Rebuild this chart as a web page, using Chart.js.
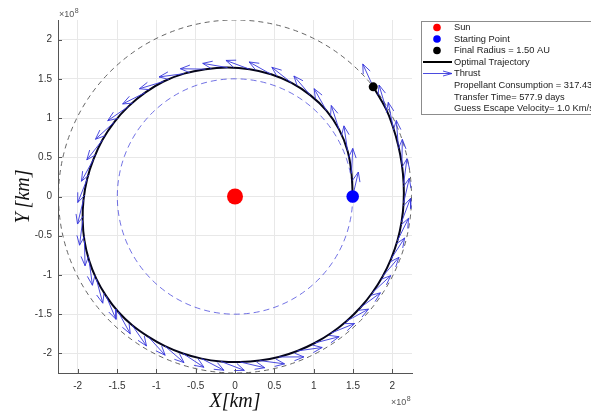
<!DOCTYPE html>
<html>
<head>
<meta charset="utf-8">
<script src="https://cdn.jsdelivr.net/npm/chart.js@4.4.1/dist/chart.umd.min.js"></script>
<style>
  html, body { margin: 0; padding: 0; background: #fff; }
  #wrap { width: 591px; height: 418px; }
</style>
</head>
<body>
<div id="wrap"><canvas id="c" width="591" height="418"></canvas></div>
<script>
// Low-thrust transfer from 1 AU to 1.5 AU. Positions are in units of 10^8 km.
const tickValues = [-2, -1.5, -1, -0.5, 0, 0.5, 1, 1.5, 2];
const axisLimit = 2.25;
const startOrbitRadius = 1.496;   // 1 AU
const finalOrbitRadius = 2.244;   // 1.5 AU
const sunPosition = { x: 0, y: 0 };

// Trajectory nodes (polar angle in degrees, radius in 10^8 km)
const nodeThetaDeg = [
  0, 11.2, 22.2, 32.9, 43.3, 53.5, 63.6, 73.6, 83.5, 93.3,
  103.0, 112.5, 121.8, 130.8, 139.7, 148.4, 156.9, 165.2, 173.3, 181.2,
  188.9, 196.4, 203.7, 210.8, 217.8, 224.7, 231.5, 238.3, 245.0, 251.7,
  258.4, 265.1, 271.8, 278.5, 285.2, 291.9, 298.5, 305.1, 311.7, 318.3,
  324.9, 331.5, 338.1, 344.7, 351.3, 357.9, 364.4, 370.9, 377.4, 383.8,
  390.1, 398.5
];
const nodeRadius = [
  1.496, 1.51, 1.545, 1.575, 1.597, 1.608, 1.617, 1.624, 1.633, 1.646,
  1.666, 1.695, 1.725, 1.749, 1.776, 1.805, 1.833, 1.860, 1.893, 1.926,
  1.96, 1.995, 2.026, 2.052, 2.072, 2.089, 2.098, 2.10, 2.105, 2.108,
  2.11, 2.11, 2.111, 2.115, 2.12, 2.122, 2.125, 2.127, 2.129, 2.131,
  2.133, 2.135, 2.137, 2.14, 2.142, 2.145, 2.15, 2.16, 2.175, 2.195,
  2.22, 2.245
];
// Thrust direction at each node: outward tilt from the local horizontal (deg)
const thrustTiltDeg = [
  13, 14, 14, 15, 14, 13, 12, 13, 14, 13,
  14, 15, 15, 14, 15, 16, 15, 14, 15, 15,
  16, 15, 16, 16, 15, 16, 17, 16, 16, 15,
  16, 16, 15, 16, 15, 14, 14, 13, 13, 12,
  12, 12, 11, 11, 12, 11, 12, 12, 13, 13,
  14, 14
];

const legendLabels = ['Sun', 'Starting Point', 'Final Radius = 1.50 AU', 'Optimal Trajectory', 'Thrust'];
const legendNotes = ['Propellant Consumption = 317.43 Kg', 'Transfer Time= 577.9 days', 'Guess Escape Velocity= 1.0 Km/s'];

// Arrow styling (data units)
const ARROW_LEN = 0.32;
const HEAD_LEN = 0.13;
const HEAD_HALF_ANGLE = 22 * Math.PI / 180;

const DEG = Math.PI / 180;
const trajectory = nodeThetaDeg.map((t, i) => ({
  x: nodeRadius[i] * Math.cos(t * DEG),
  y: nodeRadius[i] * Math.sin(t * DEG)
}));
const startPoint = trajectory[0];
const finalPoint = trajectory[trajectory.length - 1];

// Quiver arrows: tail at each node, shaft + open head, separated by gaps
const arrowPoints = [];
trajectory.forEach((p, i) => {
  const phi = (nodeThetaDeg[i] + 90 - thrustTiltDeg[i]) * DEG;
  const hx = p.x + ARROW_LEN * Math.cos(phi);
  const hy = p.y + ARROW_LEN * Math.sin(phi);
  const w1 = { x: hx - HEAD_LEN * Math.cos(phi + HEAD_HALF_ANGLE), y: hy - HEAD_LEN * Math.sin(phi + HEAD_HALF_ANGLE) };
  const w2 = { x: hx - HEAD_LEN * Math.cos(phi - HEAD_HALF_ANGLE), y: hy - HEAD_LEN * Math.sin(phi - HEAD_HALF_ANGLE) };
  arrowPoints.push(p, { x: hx, y: hy }, w1, { x: null, y: null }, w2, { x: hx, y: hy }, { x: null, y: null });
});

const AXIS_COLOR = '#555555';
const TEXT_COLOR = '#333333';
const ARROW_COLOR = 'rgba(55,55,220,0.9)';
const SANS = '"Liberation Sans", Arial, Helvetica, sans-serif';

// Reference orbits drawn as dashed circles through the scales
const orbitCircles = {
  id: 'orbitCircles',
  beforeDatasetsDraw(chart) {
    const { ctx, chartArea, scales: { x, y } } = chart;
    const cx = x.getPixelForValue(sunPosition.x);
    const cy = y.getPixelForValue(sunPosition.y);
    const draw = (r, color, dash) => {
      const rp = x.getPixelForValue(r) - cx;
      ctx.save();
      ctx.beginPath();
      ctx.rect(chartArea.left, chartArea.top, chartArea.right - chartArea.left, chartArea.bottom - chartArea.top);
      ctx.clip();
      ctx.beginPath();
      ctx.setLineDash(dash);
      ctx.strokeStyle = color;
      ctx.lineWidth = 0.9;
      ctx.arc(cx, cy, rp, 0, Math.PI * 2);
      ctx.stroke();
      ctx.restore();
    };
    draw(finalOrbitRadius, '#555555', [5, 4]);
    draw(startOrbitRadius, 'rgba(70,70,220,0.85)', [6, 4]);
  }
};

// Inward tick marks, exponent labels and the legend box
const extras = {
  id: 'extras',
  afterDraw(chart) {
    const { ctx, chartArea, scales: { x, y } } = chart;
    ctx.save();
    ctx.strokeStyle = AXIS_COLOR;
    ctx.lineWidth = 1;
    tickValues.forEach(v => {
      const px = Math.round(x.getPixelForValue(v)) + 0.5;
      ctx.beginPath();
      ctx.moveTo(px, chartArea.bottom);
      ctx.lineTo(px, chartArea.bottom - 4);
      ctx.stroke();
      const py = Math.round(y.getPixelForValue(v)) + 0.5;
      ctx.beginPath();
      ctx.moveTo(chartArea.left, py);
      ctx.lineTo(chartArea.left + 4, py);
      ctx.stroke();
    });

    // ×10^8 multipliers
    const expLabel = (lx, by) => {
      ctx.fillStyle = '#555';
      ctx.textAlign = 'left';
      ctx.textBaseline = 'alphabetic';
      ctx.font = '9px ' + SANS;
      ctx.fillText('\u00d710', lx, by);
      const w = ctx.measureText('\u00d710').width;
      ctx.font = '7px ' + SANS;
      ctx.fillText('8', lx + w + 0.5, by - 4);
    };
    expLabel(chartArea.left + 1, 17);
    expLabel(chartArea.right - 21, 405);

    // Legend
    const bx = 421.5, by = 21.5, bw = 210, bh = 93;
    ctx.fillStyle = '#ffffff';
    ctx.fillRect(bx, by, bw, bh);
    ctx.strokeStyle = '#8c8c8c';
    ctx.lineWidth = 1;
    ctx.strokeRect(bx, by, bw, bh);

    const rowY = [27.5, 39, 50.5, 62, 73.5, 85.5, 97, 108.5];
    const symX = 437;
    const textX = 454;
    const dot = (yy, color, r) => {
      ctx.beginPath();
      ctx.fillStyle = color;
      ctx.arc(symX, yy, r, 0, Math.PI * 2);
      ctx.fill();
    };
    dot(rowY[0], '#ff0000', 3.8);
    dot(rowY[1], '#0000ff', 3.8);
    dot(rowY[2], '#000000', 3.8);

    ctx.strokeStyle = '#000';
    ctx.lineWidth = 2;
    ctx.beginPath();
    ctx.moveTo(423, rowY[3]);
    ctx.lineTo(452, rowY[3]);
    ctx.stroke();

    ctx.strokeStyle = ARROW_COLOR;
    ctx.lineWidth = 1;
    ctx.beginPath();
    ctx.moveTo(423, rowY[4]);
    ctx.lineTo(452, rowY[4]);
    ctx.moveTo(443, rowY[4] - 2.5);
    ctx.lineTo(452, rowY[4]);
    ctx.lineTo(443, rowY[4] + 2.5);
    ctx.stroke();

    ctx.fillStyle = '#222';
    ctx.font = '9.3px ' + SANS;
    ctx.textAlign = 'left';
    ctx.textBaseline = 'middle';
    legendLabels.forEach((t, i) => ctx.fillText(t, textX, rowY[i]));
    legendNotes.forEach((t, i) => ctx.fillText(t, textX, rowY[5 + i]));
    ctx.restore();
  }
};

const tickFont = { family: SANS, size: 10 };
const titleFont = { family: '"Liberation Serif", "DejaVu Serif", serif', size: 20, style: 'italic' };

new Chart(document.getElementById('c'), {
  type: 'scatter',
  data: {
    datasets: [
      { label: 'Sun', data: [sunPosition], pointRadius: 8, pointBackgroundColor: '#ff0000', pointBorderWidth: 0, order: 0 },
      { label: 'Starting Point', data: [startPoint], pointRadius: 6.3, pointBackgroundColor: '#0000ff', pointBorderWidth: 0, order: 0 },
      { label: 'Final Radius = 1.50 AU', data: [finalPoint], pointRadius: 4.5, pointBackgroundColor: '#000000', pointBorderWidth: 0, order: 0 },
      { label: 'Thrust', data: arrowPoints, showLine: true, spanGaps: false, pointRadius: 0, borderColor: ARROW_COLOR, borderWidth: 1, tension: 0, order: 1 },
      { label: 'Optimal Trajectory', data: trajectory, showLine: true, pointRadius: 0, borderColor: '#05051a', borderWidth: 2, tension: 0.4, order: 2 }
    ]
  },
  options: {
    responsive: false,
    animation: false,
    devicePixelRatio: 1,
    events: [],
    layout: { padding: { left: 0, right: 179, top: 20, bottom: 0 } },
    plugins: { legend: { display: false }, tooltip: { enabled: false } },
    scales: {
      x: {
        type: 'linear', min: -axisLimit, max: axisLimit,
        afterBuildTicks: s => { s.ticks = tickValues.map(v => ({ value: v })); },
        afterFit: s => { s.height = 45; },
        ticks: { callback: v => String(v), color: TEXT_COLOR, font: tickFont, padding: 7, maxRotation: 0, autoSkip: false },
        grid: { color: '#e8e8e8', drawTicks: false, lineWidth: 1 },
        border: { display: true, color: AXIS_COLOR, width: 1 },
        title: { display: true, text: 'X[km]', font: titleFont, color: '#111', padding: { top: 0, bottom: 4 } }
      },
      y: {
        type: 'linear', min: -axisLimit, max: axisLimit,
        afterBuildTicks: s => { s.ticks = tickValues.map(v => ({ value: v })); },
        afterFit: s => { s.width = 58; },
        ticks: { callback: v => String(v), color: TEXT_COLOR, font: tickFont, padding: 6, autoSkip: false },
        grid: { color: '#e8e8e8', drawTicks: false, lineWidth: 1 },
        border: { display: true, color: AXIS_COLOR, width: 1 },
        title: { display: true, text: 'Y\u2009[km]', font: titleFont, color: '#111', padding: { top: 12, bottom: 0 } }
      }
    }
  },
  plugins: [orbitCircles, extras]
});
</script>
</body>
</html>
